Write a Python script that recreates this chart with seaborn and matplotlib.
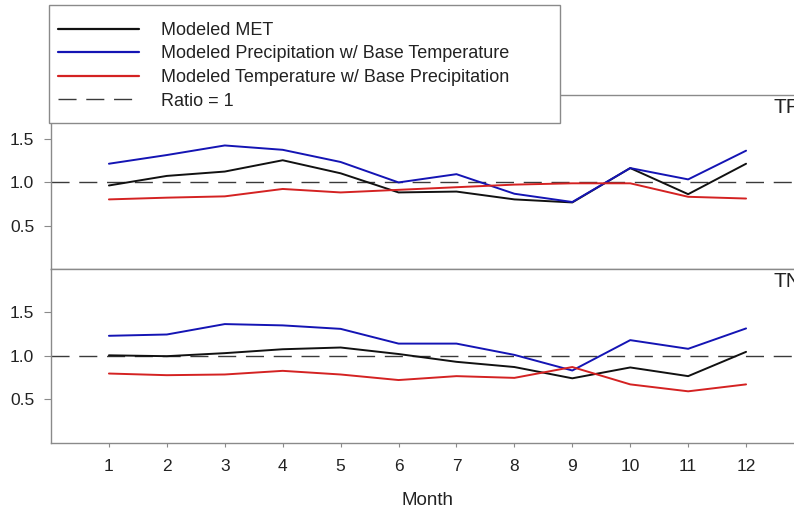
import matplotlib
matplotlib.use("Agg")
import matplotlib.pyplot as plt
from matplotlib.patches import Rectangle
from matplotlib.lines import Line2D
import seaborn as sns
import pandas as pd

months = list(range(1, 13))

# TP ratios
tp_met = [0.96, 1.07, 1.12, 1.25, 1.10, 0.88, 0.89, 0.80, 0.765, 1.16, 0.86, 1.21]
tp_precip = [1.21, 1.31, 1.42, 1.37, 1.23, 0.995, 1.09, 0.865, 0.77, 1.16, 1.03, 1.36]
tp_temp = [0.80, 0.82, 0.835, 0.92, 0.88, 0.91, 0.94, 0.97, 0.985, 0.985, 0.83, 0.81]

# TN ratios
tn_met = [1.005, 0.995, 1.03, 1.075, 1.095, 1.02, 0.93, 0.87, 0.74, 0.865, 0.765, 1.045]
tn_precip = [1.23, 1.245, 1.365, 1.35, 1.31, 1.14, 1.14, 1.01, 0.83, 1.18, 1.08, 1.315]
tn_temp = [0.795, 0.776, 0.784, 0.826, 0.784, 0.72, 0.765, 0.745, 0.87, 0.67, 0.59, 0.67]

series_names = [
    "Modeled MET",
    "Modeled Precipitation w/ Base Temperature",
    "Modeled Temperature w/ Base Precipitation",
]
ratio_label = "Ratio = 1"
panel_labels = ["TP", "TN"]
yticks = [0.5, 1.0, 1.5]

colors = ["#111111", "#1414b4", "#d42222"]
spine_gray = "#8a8a8a"

sns.set_theme(style="white")
plt.rcParams["font.family"] = ["Liberation Sans", "DejaVu Sans"]

W, H = 794, 511
fig = plt.figure(figsize=(W / 100, H / 100), dpi=100)


def px_axes(x0, y0, x1, y1):
    return fig.add_axes([x0 / W, 1 - y1 / H, (x1 - x0) / W, (y1 - y0) / H])


ax_top = px_axes(51, 95, 804, 269)
ax_bot = px_axes(51, 269, 804, 442.5)

panels = [
    (ax_top, [tp_met, tp_precip, tp_temp]),
    (ax_bot, [tn_met, tn_precip, tn_temp]),
]

dash_style = (0, (13, 7))

for (ax, vals), label in zip(panels, panel_labels):
    ax.axhline(1.0, color="#3a3a3a", lw=1.0, linestyle=dash_style, zorder=1)
    for name, v, c in zip(series_names, vals, colors):
        df = pd.DataFrame({"Month": months, "Ratio": v})
        sns.lineplot(data=df, x="Month", y="Ratio", color=c, lw=1.4, ax=ax,
                     legend=False, zorder=2)
    ax.set_xlim(0, 13)
    ax.set_ylim(0, 2)
    ax.set_yticks(yticks)
    ax.set_yticklabels([f"{t:.1f}" for t in yticks], fontsize=12.5, color="#222222")
    ax.set_ylabel("")
    ax.text(12.47, 1.96, label, fontsize=15, ha="left", va="top", color="#222222")
    for s in ax.spines.values():
        s.set_color(spine_gray)
        s.set_linewidth(1.0)
    ax.tick_params(axis="y", direction="out", length=5, width=0.8, color=spine_gray,
                   pad=7, left=True)

ax_top.set_xticks([])
ax_top.set_xlabel("")
ax_bot.set_xticks(months)
ax_bot.set_xticklabels([str(m) for m in months], fontsize=12.5, color="#222222")
ax_bot.tick_params(axis="x", direction="out", length=3, width=0.8, color=spine_gray,
                   pad=9, bottom=True)
ax_bot.set_xlabel("Month", fontsize=13.5, color="#222222", labelpad=13)

# legend box
fig.patches.append(Rectangle((49 / W, 1 - 123 / H), (560 - 49) / W, (123 - 5) / H,
                             transform=fig.transFigure, facecolor="white",
                             edgecolor=spine_gray, lw=1.0, zorder=5))
handles = [Line2D([], [], color=c, lw=1.6) for c in colors]
handles.append(Line2D([], [], color="#3a3a3a", lw=1.0, linestyle=dash_style))
leg = fig.legend(handles, series_names + [ratio_label], loc="upper left",
                 bbox_to_anchor=(58 / W, 1 - 22 / H), frameon=False,
                 fontsize=13, handlelength=4.5, handletextpad=1.2,
                 labelspacing=0.36, borderpad=0, borderaxespad=0)
leg.set_zorder(6)
for t in leg.get_texts():
    t.set_color("#222222")

fig.savefig("out.png", dpi=100)
